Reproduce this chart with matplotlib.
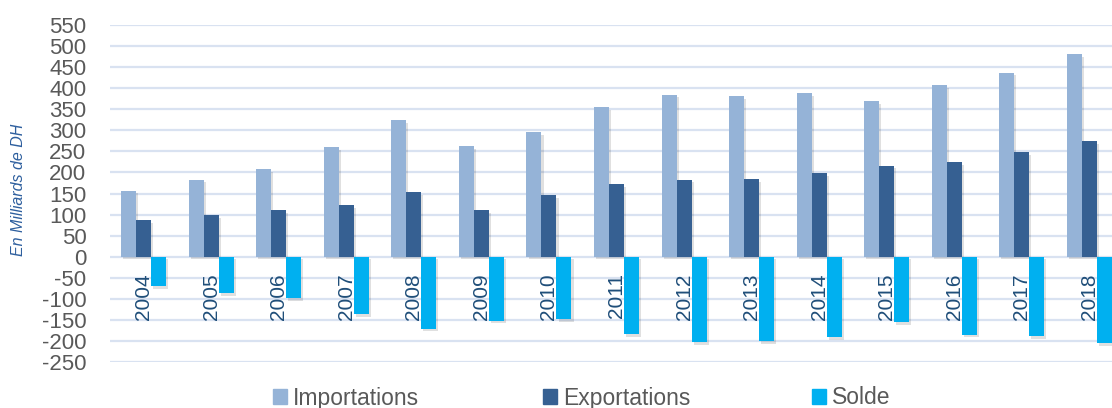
import matplotlib
matplotlib.use("Agg")
import matplotlib.pyplot as plt
import matplotlib.patheffects as pe
from matplotlib.patches import Patch
import numpy as np

years = ["2004", "2005", "2006", "2007", "2008", "2009", "2010", "2011",
         "2012", "2013", "2014", "2015", "2016", "2017", "2018"]
importations = [157, 183, 208, 260, 324, 262, 296, 356, 385, 382, 389, 370, 408, 437, 480]
exportations = [87, 98, 110, 123, 154, 111, 147, 173, 183, 184, 199, 216, 224, 248, 274]
solde = [-70, -86, -99, -137, -171, -152, -149, -184, -203, -200, -191, -156, -185, -189, -206]

c_imp = "#95b3d7"
c_exp = "#366092"
c_sol = "#00b0f0"

plt.rcParams["font.family"] = ["Liberation Sans", "DejaVu Sans"]
plt.rcParams["axes.unicode_minus"] = False

fig = plt.figure(figsize=(11.12, 4.08), dpi=100)
ax = fig.add_axes([110 / 1112, 46 / 408, 1013 / 1112, 337 / 408])

x = np.arange(len(years))
w = 0.222
shadow = [pe.SimplePatchShadow(offset=(1.5, -2), shadow_rgbFace="black", alpha=0.12), pe.Normal()]
for off, vals, col in [(-w, importations, c_imp), (0, exportations, c_exp), (w, solde, c_sol)]:
    bars = ax.bar(x + off, vals, width=w, color=col, zorder=3)
    for b in bars:
        b.set_path_effects(shadow)

for i, y in enumerate(years):
    ax.annotate(y, (x[i], 0), xytext=(0, -12), textcoords="offset points",
                rotation=90, ha="center", va="top", fontsize=15, color="#1f4e79", zorder=4)

ax.set_xlim(-0.5, 14.5)
ax.set_ylim(-250, 550)
ax.set_yticks(range(-250, 551, 50))
ax.tick_params(axis="y", length=0, pad=17, labelsize=16, labelcolor="#595959")
ax.set_xticks([])
ax.grid(axis="y", color="#d9e2f1", linewidth=1.6, zorder=0)
for s in ax.spines.values():
    s.set_visible(False)

fig.text(19 / 1112, 1 - 190 / 408, "En Milliards de DH", rotation=90, ha="center", va="center",
         fontsize=11.5, style="italic", color="#2e5f9e")

entries = [("Importations", c_imp, 273), ("Exportations", c_exp, 543), ("Solde", c_sol, 812)]
for lab, col, px in entries:
    fig.legend(handles=[Patch(color=col)], labels=[lab], loc="center left",
               bbox_to_anchor=(px / 1112, 10 / 408), frameon=False, fontsize=16.5,
               handlelength=0.6, handleheight=0.6, handletextpad=0.28, labelcolor="#595959",
               borderaxespad=0, borderpad=0)

fig.savefig("out.png", dpi=100)
